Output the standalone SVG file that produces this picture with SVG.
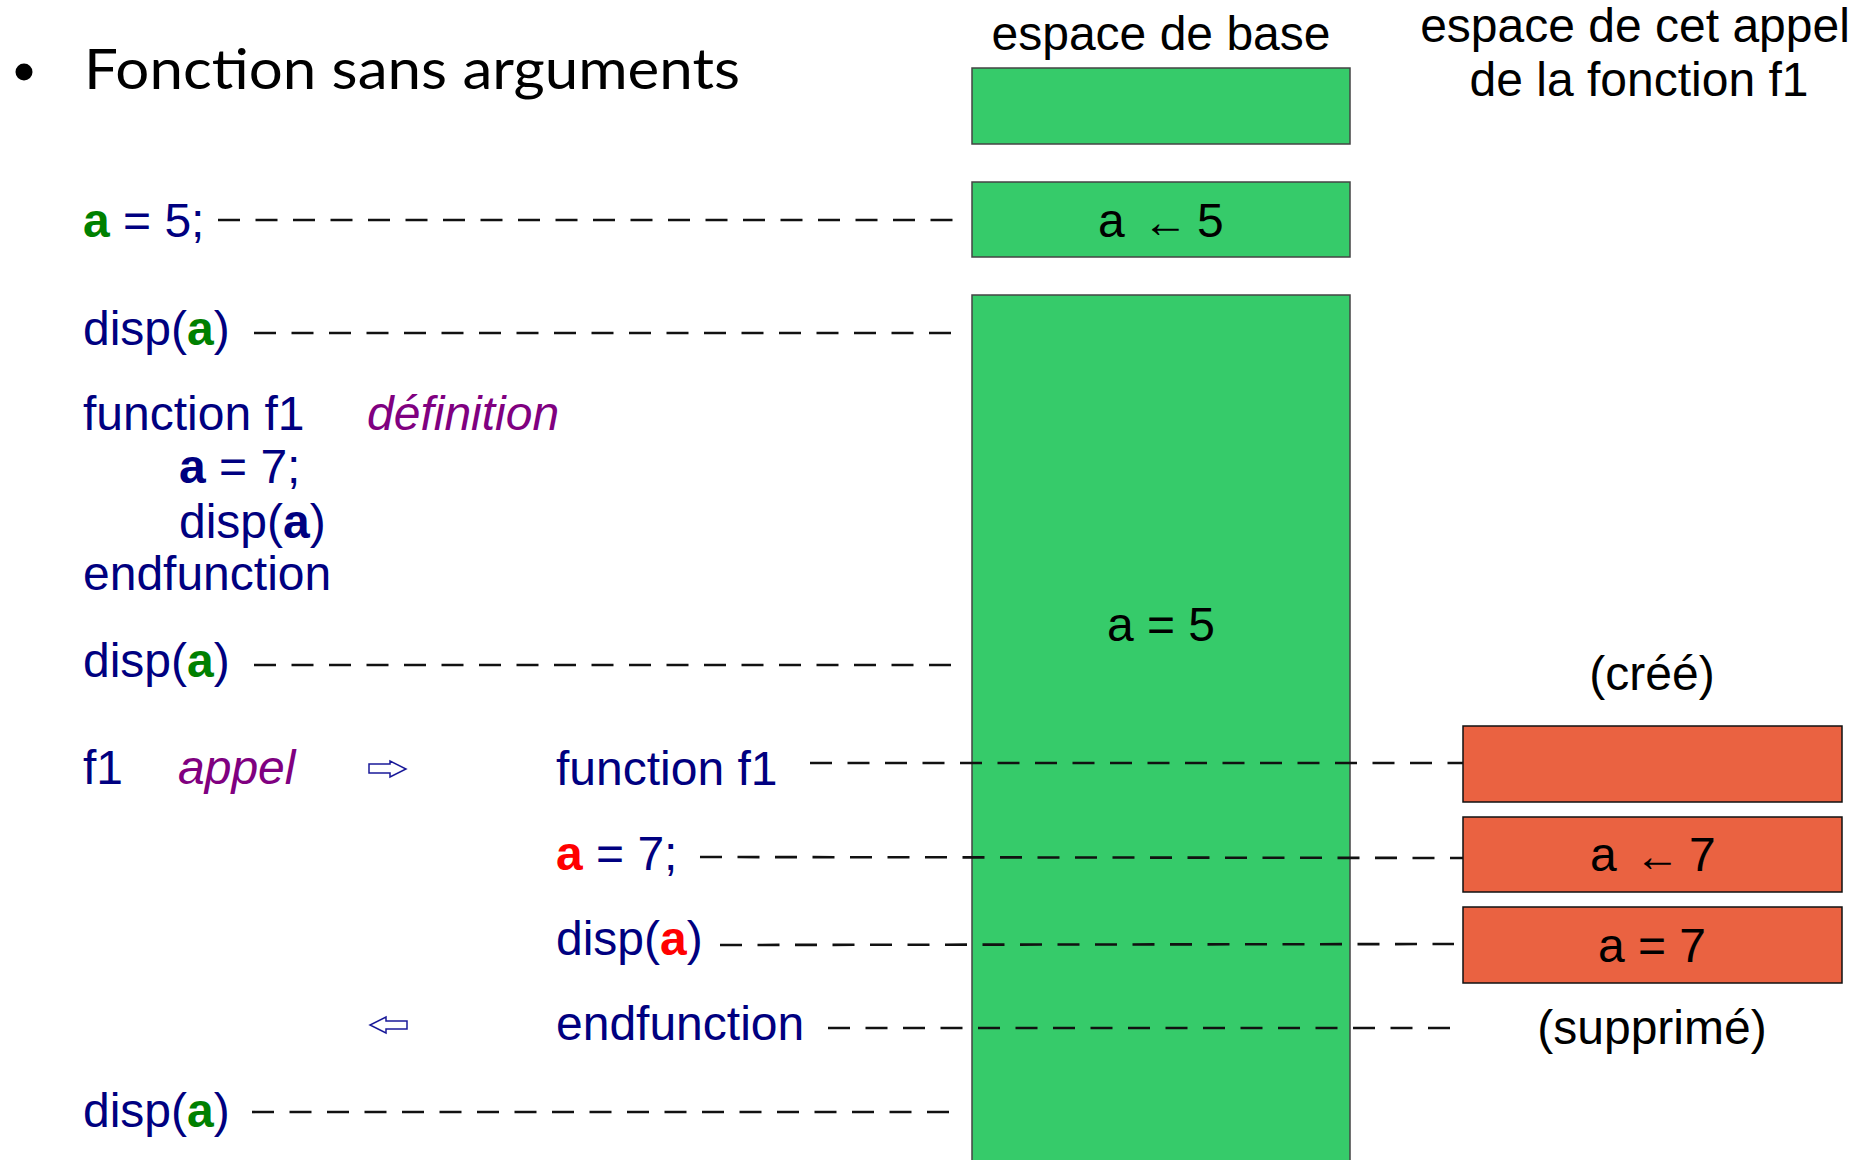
<svg xmlns="http://www.w3.org/2000/svg" width="1868" height="1160" viewBox="0 0 1868 1160">
<style>
.code{font-family:"Liberation Sans",Arial,sans-serif;font-size:48px;fill:#000080}
.va{fill:#008000;font-weight:bold}
.vb{font-weight:bold}
.vr{fill:#ff0000;font-weight:bold}
.note{font-family:"Liberation Sans",Arial,sans-serif;font-size:48px;font-style:italic;fill:#800080}
.lbl{font-family:"Liberation Sans",Arial,sans-serif;font-size:48px;fill:#000000}
.arr{font-size:45px}
.green{fill:#36cb6a;stroke:#444444;stroke-width:1.5}
.orange{fill:#ea6241;stroke:#111111;stroke-width:1.5}
.dash{stroke:#111111;stroke-width:2.6;stroke-dasharray:22 15.5;fill:none}
.flow{fill:#ffffff;stroke:#1a1a99;stroke-width:1.5}
</style>
<rect x="0" y="0" width="1868" height="1160" fill="#ffffff"/>

<g id="title">
  <circle cx="24" cy="72" r="8.5" fill="#000000"/>
  <text x="84" y="89" font-family="Lato,'Open Sans',sans-serif" font-size="57" fill="#000000" textLength="656" lengthAdjust="spacingAndGlyphs">Fonction sans arguments</text>
</g>

<g id="headers">
  <text class="lbl" x="1161" y="50" text-anchor="middle">espace de base</text>
  <text class="lbl" x="1635" y="42" text-anchor="middle">espace de cet appel</text>
  <text class="lbl" x="1639" y="96" text-anchor="middle">de la fonction f1</text>
</g>

<g id="code">
  <text class="code" x="83" y="237"><tspan class="va">a</tspan> = 5;</text>
  <text class="code" x="83" y="345">disp(<tspan class="va">a</tspan>)</text>
  <text class="code" x="83" y="430">function f1</text>
  <text class="note" x="367" y="430">définition</text>
  <text class="code" x="179" y="483"><tspan class="vb">a</tspan> = 7;</text>
  <text class="code" x="179" y="538">disp(<tspan class="vb">a</tspan>)</text>
  <text class="code" x="83" y="590">endfunction</text>
  <text class="code" x="83" y="677">disp(<tspan class="va">a</tspan>)</text>
  <text class="code" x="83" y="784">f1</text>
  <text class="note" x="178" y="784">appel</text>
  <text class="code" x="556" y="785">function f1</text>
  <text class="code" x="556" y="870"><tspan class="vr">a</tspan> = 7;</text>
  <text class="code" x="556" y="955">disp(<tspan class="vr">a</tspan>)</text>
  <text class="code" x="556" y="1040">endfunction</text>
  <text class="code" x="83" y="1127">disp(<tspan class="va">a</tspan>)</text>
</g>

<g id="flow-arrows">
  <polygon class="flow" points="369,764 390,764 390,761 406,769 390,777 390,773 369,773"/>
  <polygon class="flow" points="407,1021 386,1021 386,1017 370,1025 386,1033 386,1029 407,1029"/>
</g>

<g id="base-space">
  <g id="base-empty"><rect class="green" x="972" y="68" width="378" height="76"/></g>
  <g id="base-assign">
    <rect class="green" x="972" y="182" width="378" height="75"/>
    <text class="lbl" y="237"><tspan x="1098">a</tspan><tspan class="arr" x="1143">←</tspan><tspan x="1197">5</tspan></text>
  </g>
  <g id="base-main">
    <rect class="green" x="972" y="295" width="378" height="880"/>
    <text class="lbl" x="1161" y="641" text-anchor="middle">a = 5</text>
  </g>
</g>

<g id="call-space">
  <text class="lbl" x="1652" y="690" text-anchor="middle">(créé)</text>
  <g id="call-empty"><rect class="orange" x="1463" y="726" width="379" height="76"/></g>
  <g id="call-assign">
    <rect class="orange" x="1463" y="817" width="379" height="75"/>
    <text class="lbl" y="871"><tspan x="1590">a</tspan><tspan class="arr" x="1635">←</tspan><tspan x="1689">7</tspan></text>
  </g>
  <g id="call-disp">
    <rect class="orange" x="1463" y="907" width="379" height="76"/>
    <text class="lbl" x="1652" y="962" text-anchor="middle">a = 7</text>
  </g>
  <text class="lbl" x="1652" y="1044" text-anchor="middle">(supprimé)</text>
</g>

<g id="connectors">
  <line class="dash" x1="218" y1="220" x2="957" y2="220"/>
  <line class="dash" x1="254" y1="333" x2="957" y2="333"/>
  <line class="dash" x1="254" y1="665" x2="957" y2="665"/>
  <line class="dash" x1="810" y1="763" x2="1463" y2="763"/>
  <line class="dash" x1="700" y1="857" x2="1463" y2="858"/>
  <line class="dash" x1="720" y1="945" x2="1454" y2="944"/>
  <line class="dash" x1="828" y1="1028" x2="1455" y2="1028"/>
  <line class="dash" x1="252" y1="1112" x2="957" y2="1112"/>
</g>
</svg>
